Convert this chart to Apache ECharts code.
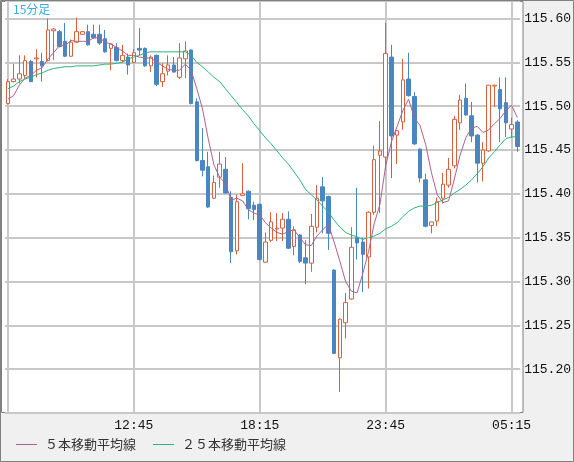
<!DOCTYPE html>
<html>
<head>
<meta charset="utf-8">
<script src="https://cdn.jsdelivr.net/npm/echarts@6/dist/echarts.min.js"></script>
<style>
html, body { margin: 0; padding: 0; background: #f0f0f0; }
#chart { width: 574px; height: 462px; }
</style>
</head>
<body>
<div id="chart"></div>
<script>
// 15分足 07:15 - 05:30
var times = ('07:15 07:30 07:45 08:00 08:15 08:30 08:45 09:00 09:15 09:30 09:45 10:00 10:15 10:30 10:45 ' +
  '11:00 11:15 11:30 11:45 12:00 12:15 12:30 12:45 13:00 13:15 13:30 13:45 14:00 14:15 14:30 14:45 ' +
  '15:00 15:15 15:30 15:45 16:00 16:15 16:30 16:45 17:00 17:15 17:30 17:45 18:00 18:15 18:30 18:45 ' +
  '19:00 19:15 19:30 19:45 20:00 20:15 20:30 20:45 21:00 21:15 21:30 21:45 22:00 22:15 22:30 22:45 ' +
  '23:00 23:15 23:30 23:45 00:00 00:15 00:30 00:45 01:00 01:15 01:30 01:45 02:00 02:15 02:30 02:45 ' +
  '03:00 03:15 03:30 03:45 04:00 04:15 04:30 04:45 05:00 05:15 05:30').split(' ');

var xLabels = ['12:45', '18:15', '23:45', '05:15'];

var opens = [
  115.503, 115.528, 115.531, 115.535, 115.551, 115.554, 115.551, 115.552, 115.586, 115.585,
  115.574, 115.557, 115.573, 115.582, 115.585, 115.582, 115.582, 115.577, 115.566, 115.567,
  115.552, 115.556, 115.550, 115.566, 115.566, 115.546, 115.558, 115.528, 115.540, 115.547,
  115.533, 115.554, 115.564, 115.505, 115.438, 115.431, 115.395, 115.419, 115.428, 115.396,
  115.335, 115.398, 115.403, 115.387, 115.388, 115.322, 115.347, 115.360, 115.361, 115.371,
  115.340, 115.353, 115.327, 115.321, 115.362, 115.408, 115.397, 115.313, 115.213, 115.253,
  115.280, 115.350, 115.345, 115.328, 115.379, 115.444, 115.442, 115.556, 115.467, 115.482,
  115.531, 115.511, 115.451, 115.416, 115.364, 115.369, 115.395, 115.410, 115.432, 115.481,
  115.509, 115.489, 115.467, 115.435, 115.449, 115.523, 115.519, 115.504, 115.474, 115.482
];
var closes = [
  115.528, 115.531, 115.537, 115.552, 115.528, 115.555, 115.546, 115.587, 115.588, 115.568,
  115.557, 115.573, 115.585, 115.585, 115.570, 115.578, 115.572, 115.562, 115.571, 115.552,
  115.558, 115.547, 115.561, 115.564, 115.546, 115.556, 115.525, 115.537, 115.547, 115.539,
  115.555, 115.563, 115.503, 115.438, 115.427, 115.385, 115.413, 115.434, 115.401, 115.334,
  115.391, 115.400, 115.383, 115.382, 115.325, 115.345, 115.368, 115.361, 115.371, 115.338,
  115.359, 115.323, 115.321, 115.363, 115.395, 115.392, 115.355, 115.218, 115.257, 115.276,
  115.339, 115.344, 115.331, 115.379, 115.439, 115.449, 115.560, 115.466, 115.472, 115.530,
  115.512, 115.457, 115.418, 115.363, 115.368, 115.391, 115.411, 115.428, 115.485, 115.507,
  115.490, 115.466, 115.435, 115.450, 115.524, 115.524, 115.497, 115.481, 115.479, 115.454
];
var lows = [
  115.502, 115.527, 115.526, 115.532, 115.528, 115.533, 115.528, 115.551, 115.553, 115.567,
  115.556, 115.556, 115.572, 115.582, 115.569, 115.577, 115.570, 115.561, 115.541, 115.551,
  115.550, 115.536, 115.549, 115.558, 115.545, 115.539, 115.523, 115.522, 115.535, 115.538,
  115.531, 115.532, 115.502, 115.437, 115.420, 115.384, 115.394, 115.407, 115.400, 115.321,
  115.331, 115.398, 115.371, 115.370, 115.324, 115.321, 115.345, 115.346, 115.346, 115.337,
  115.330, 115.321, 115.297, 115.311, 115.356, 115.355, 115.336, 115.217, 115.174, 115.235,
  115.279, 115.325, 115.288, 115.292, 115.376, 115.378, 115.427, 115.418, 115.434, 115.473,
  115.511, 115.456, 115.413, 115.362, 115.355, 115.363, 115.389, 115.407, 115.429, 115.473,
  115.489, 115.459, 115.413, 115.414, 115.448, 115.499, 115.459, 115.465, 115.464, 115.448
];
var highs = [
  115.531, 115.548, 115.558, 115.558, 115.553, 115.565, 115.561, 115.600, 115.589, 115.587,
  115.595, 115.576, 115.601, 115.586, 115.593, 115.593, 115.593, 115.587, 115.572, 115.572,
  115.570, 115.560, 115.565, 115.589, 115.567, 115.558, 115.559, 115.549, 115.558, 115.556,
  115.572, 115.574, 115.565, 115.509, 115.475, 115.448, 115.421, 115.448, 115.442, 115.403,
  115.399, 115.435, 115.404, 115.391, 115.389, 115.356, 115.379, 115.378, 115.378, 115.380,
  115.363, 115.354, 115.347, 115.377, 115.410, 115.419, 115.398, 115.314, 115.258, 115.287,
  115.362, 115.407, 115.350, 115.380, 115.455, 115.483, 115.595, 115.570, 115.473, 115.554,
  115.561, 115.516, 115.452, 115.423, 115.368, 115.396, 115.424, 115.441, 115.489, 115.513,
  115.526, 115.505, 115.468, 115.459, 115.524, 115.524, 115.533, 115.533, 115.487, 115.484
];

// 5本移動平均線
var ma5 = [
  115.508, 115.512, 115.524, 115.532, 115.535, 115.541, 115.544, 115.554, 115.561, 115.569,
  115.569, 115.575, 115.574, 115.574, 115.574, 115.578, 115.578, 115.573, 115.571, 115.567,
  115.563, 115.558, 115.558, 115.556, 115.555, 115.555, 115.550, 115.546, 115.542, 115.541,
  115.541, 115.548, 115.541, 115.520, 115.497, 115.463, 115.433, 115.419, 115.412, 115.393,
  115.395, 115.392, 115.382, 115.378, 115.376, 115.367, 115.361, 115.356, 115.354, 115.357,
  115.359, 115.350, 115.342, 115.341, 115.352, 115.359, 115.365, 115.345, 115.323, 115.300,
  115.289, 115.287, 115.309, 115.334, 115.366, 115.388, 115.432, 115.459, 115.477, 115.495,
  115.508, 115.487, 115.478, 115.456, 115.424, 115.399, 115.390, 115.392, 115.417, 115.444,
  115.464, 115.475, 115.477, 115.470, 115.473, 115.480, 115.486, 115.495, 115.501, 115.487
];
// ２５本移動平均線
var ma25 = [
  115.520, 115.523, 115.528, 115.531, 115.533, 115.536, 115.538, 115.541, 115.543, 115.544,
  115.545, 115.545, 115.546, 115.546, 115.546, 115.546, 115.547, 115.548, 115.548, 115.549,
  115.550, 115.554, 115.556, 115.558, 115.561, 115.562, 115.562, 115.562, 115.562, 115.562,
  115.562, 115.562, 115.558, 115.550, 115.545, 115.539, 115.533, 115.528, 115.520, 115.512,
  115.504, 115.496, 115.489, 115.480, 115.472, 115.464, 115.457, 115.449, 115.441, 115.434,
  115.425, 115.416, 115.405, 115.399, 115.393, 115.386, 115.379, 115.370, 115.362, 115.356,
  115.353, 115.351, 115.348, 115.350, 115.352, 115.355, 115.360, 115.363, 115.367, 115.374,
  115.380, 115.384, 115.386, 115.386, 115.387, 115.390, 115.393, 115.396, 115.401, 115.405,
  115.410, 115.416, 115.423, 115.431, 115.441, 115.448, 115.456, 115.463, 115.465, 115.465
];

var candles = opens.map(function (o, i) {
  return [o, closes[i], lows[i], highs[i]];
});

var monoFont = '"Liberation Mono", "DejaVu Sans Mono", monospace';
var jpFont = '"Noto Sans CJK JP", sans-serif';

var myChart = echarts.init(document.getElementById('chart'));
var option = {
  backgroundColor: '#f0f0f0',
  animation: false,
  title: {
    text: '15分足',
    left: 13, top: 3, padding: 0,
    textStyle: { color: '#35ade3', fontSize: 12, fontWeight: 'normal', fontFamily: jpFont }
  },
  graphic: [
    { type: 'rect', z: -10, shape: { x: 1.5, y: 1.5, width: 521.5, height: 411 },
      style: { fill: '#ffffff', stroke: '#808080', lineWidth: 1 } },
    { type: 'rect', z: 100, shape: { x: 0.5, y: 0.5, width: 573, height: 461 },
      style: { fill: 'none', stroke: '#808080', lineWidth: 1 } }
  ],
  grid: { left: 5, right: 52, top: 1, bottom: 49 },
  legend: {
    left: 16, top: 438, padding: 0,
    itemWidth: 21, itemHeight: 1, itemGap: 17,
    icon: 'rect',
    data: ['５本移動平均線', '２５本移動平均線'],
    textStyle: { fontFamily: jpFont, fontSize: 13, color: '#333', padding: [0, 0, 0, 3] }
  },
  xAxis: {
    type: 'category',
    data: times,
    boundaryGap: true,
    axisLine: { show: false },
    axisTick: { show: false },
    axisLabel: {
      margin: 6,
      color: '#111',
      fontFamily: monoFont,
      fontSize: 13,
      interval: function (index, value) { return xLabels.indexOf(value) >= 0; }
    },
    splitLine: {
      show: true,
      alignWithLabel: true,
      interval: 21,
      lineStyle: { color: '#c8c8c8', width: 2 }
    }
  },
  yAxis: {
    type: 'value',
    position: 'right',
    min: 115.15,
    max: 115.62,
    interval: 0.05,
    axisLine: { show: false },
    axisTick: { show: false },
    axisLabel: {
      margin: 4,
      color: '#111',
      fontFamily: monoFont,
      fontSize: 13,
      showMinLabel: false,
      showMaxLabel: false,
      formatter: function (v) { return v.toFixed(2); }
    },
    splitLine: { lineStyle: { color: '#c8c8c8', width: 2 } }
  },
  series: [
    {
      name: '15分足',
      type: 'candlestick',
      data: candles,
      barWidth: 4,
      itemStyle: {
        color: '#ffffff',
        color0: '#4a86c0',
        borderColor: '#d9623e',
        borderColor0: '#4a86c0',
        borderWidth: 1
      }
    },
    {
      name: '５本移動平均線',
      type: 'line',
      data: ma5,
      symbol: 'none',
      lineStyle: { color: '#b0608e', width: 1 },
      itemStyle: { color: '#b0608e' }
    },
    {
      name: '２５本移動平均線',
      type: 'line',
      data: ma25,
      symbol: 'none',
      lineStyle: { color: '#2db47a', width: 1 },
      itemStyle: { color: '#2db47a' }
    }
  ]
};
myChart.setOption(option);
</script>
</body>
</html>
